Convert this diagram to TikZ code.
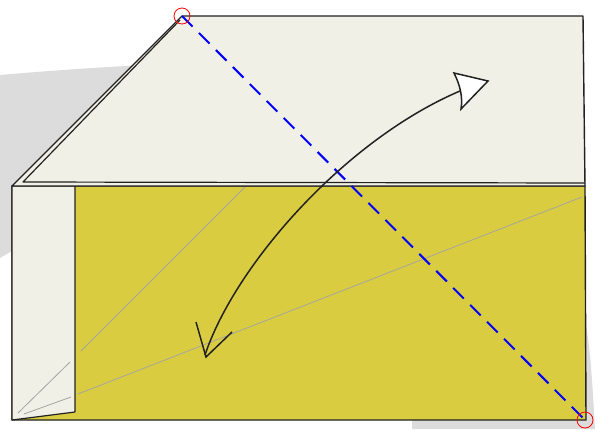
\documentclass[tikz,border=0pt]{standalone}
\usetikzlibrary{arrows.meta}
\definecolor{shadowgray}{RGB}{220,220,220}
\definecolor{cream}{RGB}{241,240,230}
\definecolor{mustard}{RGB}{218,204,64}
\definecolor{ink}{RGB}{34,34,34}
\definecolor{crease}{RGB}{165,165,160}
\tikzset{
  paper/.style={draw=ink, line width=1.4pt, line join=round},
  creaseline/.style={draw=crease, line width=0.8pt},
  foldline/.style={draw=blue, line width=2pt, dash pattern=on 15pt off 9pt},
  marker/.style={draw=red, line width=0.8pt, circle, minimum size=16pt, inner sep=0pt},
  motion/.style={draw=ink, line width=1.5pt},
}
\begin{document}
\begin{tikzpicture}[x=1pt,y=-1pt]
\useasboundingbox (0,0) rectangle (600,429);
% background shadow
\fill[fill=shadowgray] (0,75) .. controls (80,68) and (200,60) .. (300,62)
  -- (580,300) .. controls (590,330) and (592,380) .. (595,429)
  -- (412,429) -- (412,400) -- (12,251) -- (0,258) -- cycle;
% yellow bottom layer
\path[paper, fill=mustard] (12,186) -- (585,186) -- (586,420) -- (12,420) -- cycle;
% crease lines on yellow
\draw[creaseline] (78,394) -- (582,197);
\draw[creaseline] (81,351) -- (245,187);
% left flap
\path[paper, fill=cream, line width=1.2pt] (12,186) -- (75,186) -- (75,412) -- (12,420) -- cycle;
\draw[creaseline] (24,414) -- (71,397);
\draw[creaseline] (18,413) -- (70,362);
% top flap
\path[paper, fill=cream] (12,186) -- (182,16) -- (583,16) -- (585,186) -- cycle;
\draw[draw=ink, line width=1.2pt, line join=round] (180,20) -- (23,182) -- (585,183);
% fold line
\coordinate (fa) at (182,16);
\coordinate (fb) at (585,420);
\draw[foldline] (fa) -- (fb);
\node[marker] at (fa) {};
\node[marker] at (fb) {};
% motion arrow
\coordinate (ms) at (205,355);
\coordinate (me) at (460,91);
\draw[motion] (ms) .. controls (235,265) and (345,140) .. (me);
\draw[motion, line join=miter] (196,322) -- (206,357) -- (232,332);
\path[draw=ink, fill=white, line width=1.5pt, line join=miter]
  (454,73) -- (488,81) -- (461,109) .. controls (463,97) and (460,85) .. (454,73) -- cycle;
\end{tikzpicture}
\end{document}
